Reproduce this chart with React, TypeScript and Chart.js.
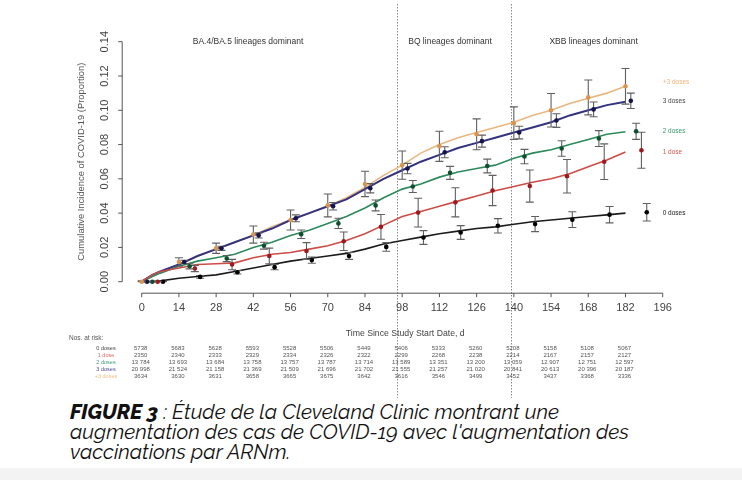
import React, { useEffect, useRef } from "react";
import { Chart, registerables } from "chart.js";
Chart.register(...registerables);

// ---------- data ----------
const lineDays = [0, 4, 7, 14, 21, 28, 35, 42, 49, 56, 63, 70, 77, 84, 91, 98, 105, 112, 119, 126, 133, 140, 147, 154, 161, 168, 175, 182];
const plus3Line = [0, 0.004, 0.006, 0.010, 0.015, 0.019, 0.023, 0.027, 0.032, 0.036, 0.040, 0.044, 0.049, 0.055, 0.062, 0.068, 0.075, 0.080, 0.084, 0.087, 0.090, 0.093, 0.097, 0.100, 0.104, 0.107, 0.110, 0.114];
const dose3Line = [0, 0.004, 0.006, 0.010, 0.015, 0.019, 0.023, 0.027, 0.031, 0.036, 0.040, 0.044, 0.048, 0.054, 0.060, 0.065, 0.070, 0.074, 0.078, 0.081, 0.084, 0.087, 0.090, 0.093, 0.097, 0.100, 0.103, 0.105];
const dose2Line = [0, 0.003, 0.005, 0.009, 0.012, 0.014, 0.016, 0.020, 0.023, 0.027, 0.030, 0.034, 0.038, 0.043, 0.049, 0.054, 0.057, 0.061, 0.064, 0.066, 0.068, 0.072, 0.075, 0.077, 0.080, 0.083, 0.086, 0.0875];
const dose1Line = [0, 0.004, 0.006, 0.008, 0.010, 0.0105, 0.011, 0.014, 0.016, 0.017, 0.019, 0.021, 0.024, 0.028, 0.033, 0.038, 0.041, 0.044, 0.047, 0.050, 0.053, 0.0555, 0.058, 0.060, 0.063, 0.067, 0.071, 0.0757];
const dose0Line = [0, 0, 0.0005, 0.002, 0.003, 0.004, 0.006, 0.008, 0.010, 0.012, 0.0135, 0.015, 0.0165, 0.019, 0.022, 0.024, 0.026, 0.028, 0.0295, 0.031, 0.032, 0.0335, 0.035, 0.036, 0.037, 0.038, 0.039, 0.040];

const markerDays = [0, 14, 28, 42, 56, 70, 84, 98, 112, 126, 140, 154, 168, 182];
const plus3Pts = [0, 0.0115, 0.0195, 0.0275, 0.036, 0.0445, 0.057, 0.068, 0.079, 0.086, 0.0925, 0.100, 0.1075, 0.114];
const plus3Err = [0.0005, 0.0025, 0.003, 0.005, 0.0058, 0.0067, 0.0074, 0.0082, 0.0088, 0.009, 0.0095, 0.0098, 0.0102, 0.0104];
const dose3Pts = [0, 0.0115, 0.0195, 0.027, 0.037, 0.044, 0.0545, 0.066, 0.0755, 0.082, 0.087, 0.094, 0.1005, 0.1055];
const dose3Err = [0.0003, 0.001, 0.0012, 0.0015, 0.002, 0.0022, 0.0027, 0.003, 0.0032, 0.0035, 0.0037, 0.004, 0.0043, 0.0045];
const dose2Pts = [0, 0.009, 0.0135, 0.021, 0.0277, 0.034, 0.0445, 0.0555, 0.0635, 0.0675, 0.073, 0.0777, 0.0835, 0.0877];
const dose2Err = [0.0003, 0.0015, 0.0018, 0.002, 0.0025, 0.003, 0.0032, 0.0035, 0.0038, 0.004, 0.0042, 0.0045, 0.0046, 0.0047];
const dose1Pts = [0, 0.0077, 0.010, 0.015, 0.0179, 0.0236, 0.032, 0.0403, 0.0463, 0.0532, 0.0558, 0.0615, 0.070, 0.0767];
const dose1Err = [0.0003, 0.0018, 0.003, 0.0046, 0.0049, 0.0054, 0.0072, 0.0084, 0.0085, 0.0088, 0.0094, 0.0098, 0.0104, 0.0105];
const dose0Pts = [0, 0.0028, 0.0055, 0.0085, 0.0126, 0.015, 0.0203, 0.0258, 0.0287, 0.0326, 0.0336, 0.0362, 0.0391, 0.0405];
const dose0Err = [0.0002, 0.0008, 0.001, 0.0015, 0.0018, 0.002, 0.0025, 0.004, 0.004, 0.0042, 0.0044, 0.0046, 0.0048, 0.0051];

const seriesNames = ["+3 doses", "3 doses", "2 doses", "1 dose", "0 doses"];
const dodgeDays = [0, 2, 4, 6, 8];

const xTicks = [0, 14, 28, 42, 56, 70, 84, 98, 112, 126, 140, 154, 168, 182, 196];
const yTicks = [0, 0.02, 0.04, 0.06, 0.08, 0.1, 0.12, 0.14];
const yTickLabels = ["0.00", "0.02", "0.04", "0.06", "0.08", "0.10", "0.12", "0.14"];
const periodBounds = [96, 139];
const periodLabels = ["BA.4/BA.5 lineages dominant", "BQ lineages dominant", "XBB lineages dominant"];
const periodLabelDays = [40, 116, 170];

const riskDays = [0, 14, 28, 42, 56, 70, 84, 98, 112, 126, 140, 154, 168, 182];
const riskRowNames = ["0 doses", "1 dose", "2 doses", "3 doses", "+3 doses"];
const risk0 = ["5738", "5683", "5628", "5593", "5528", "5506", "5449", "5406", "5333", "5260", "5208", "5158", "5108", "5067"];
const risk1 = ["2350", "2340", "2333", "2329", "2334", "2326", "2322", "2299", "2268", "2238", "2214", "2167", "2157", "2127"];
const risk2 = ["13 784", "13 693", "13 684", "13 758", "13 757", "13 787", "13 714", "13 589", "13 351", "13 200", "13 059", "12 907", "12 751", "12 597"];
const risk3 = ["20 998", "21 524", "21 158", "21 369", "21 509", "21 696", "21 702", "21 555", "21 257", "21 020", "20 841", "20 613", "20 396", "20 187"];
const risk4 = ["3634", "3630", "3631", "3658", "3665", "3675", "3642", "3616", "3546", "3499", "3452", "3437", "3368", "3336"];

// ---------- styles ----------
const lineColors = ["#e9b680", "#33337f", "#2c8a5c", "#cc4c48", "#1c1c1c"];
const markColors = ["#d99550", "#15154a", "#0f4f2f", "#9e1820", "#000000"];
const labelColors = ["#efb27a", "#444444", "#3a9a6e", "#d05a55", "#222222"];
const riskColors = ["#444444", "#d46a64", "#3f9c7c", "#4a4a9a", "#f0c080"];
const FONT = "'Liberation Sans', Arial, sans-serif";

const lines = [plus3Line, dose3Line, dose2Line, dose1Line, dose0Line];
const pts = [plus3Pts, dose3Pts, dose2Pts, dose1Pts, dose0Pts];
const errs = [plus3Err, dose3Err, dose2Err, dose1Err, dose0Err];
const risks = [risk0, risk1, risk2, risk3, risk4];

export default function App() {
  const ref = useRef<HTMLCanvasElement | null>(null);

  useEffect(() => {
    document.body.style.margin = "0";
    document.body.style.background = "#ffffff";
    if (!ref.current) return;

    const markerSets = pts.map((arr, s) => ({
      label: seriesNames[s] + " pts",
      data: arr.map((v, i) => ({ x: markerDays[i] + dodgeDays[s], y: v })),
      showLine: false,
      pointRadius: 2.3,
      pointBorderWidth: 0,
      pointBackgroundColor: markColors[s],
      pointBorderColor: markColors[s],
      clip: false as any,
      order: 1,
      errIndex: s,
    }));
    const lineSets = lines.map((arr, s) => ({
      label: seriesNames[s],
      data: arr.map((v, i) => ({ x: lineDays[i], y: v })),
      showLine: true,
      borderColor: lineColors[s],
      borderWidth: s === 1 ? 2 : 1.6,
      pointRadius: 0,
      tension: 0,
      clip: false as any,
      order: 10 - s,
    }));

    const rPlugin = {
      id: "rstyle",
      beforeDatasetsDraw(chart: any) {
        const ctx = chart.ctx;
        const xs = chart.scales.x;
        ctx.save();
        ctx.strokeStyle = "#8a8a8a";
        ctx.lineWidth = 1;
        ctx.setLineDash([1.5, 1.5]);
        periodBounds.forEach((d) => {
          const px = Math.round(xs.getPixelForValue(d)) + 0.5;
          ctx.beginPath();
          ctx.moveTo(px, 4);
          ctx.lineTo(px, 398);
          ctx.stroke();
        });
        ctx.restore();
      },
      beforeDatasetDraw(chart: any, args: any) {
        const ds = chart.data.datasets[args.index];
        if (ds.errIndex === undefined) return;
        const s = ds.errIndex;
        const ctx = chart.ctx;
        const xs = chart.scales.x;
        const ys = chart.scales.y;
        ctx.save();
        ctx.strokeStyle = "#606060";
        ctx.lineWidth = 1.1;
        pts[s].forEach((v, i) => {
          const e = errs[s][i];
          const px = xs.getPixelForValue(markerDays[i] + dodgeDays[s]);
          const top = ys.getPixelForValue(v + e);
          const bot = ys.getPixelForValue(Math.max(0, v - e));
          ctx.beginPath();
          ctx.moveTo(px, top);
          ctx.lineTo(px, bot);
          ctx.moveTo(px - 4, top);
          ctx.lineTo(px + 4, top);
          ctx.moveTo(px - 4, bot);
          ctx.lineTo(px + 4, bot);
          ctx.stroke();
        });
        ctx.restore();
      },
      afterDraw(chart: any) {
        const ctx = chart.ctx;
        const xs = chart.scales.x;
        const ys = chart.scales.y;
        const y0 = ys.getPixelForValue(0);
        const yTop = ys.getPixelForValue(0.14);
        const x0 = xs.getPixelForValue(0);
        const xEnd = xs.getPixelForValue(196);
        const axisY = y0 + 11.5;
        const axisX = x0 - 19.5;
        ctx.save();
        // y axis
        ctx.strokeStyle = "#555";
        ctx.lineWidth = 1;
        ctx.beginPath();
        ctx.moveTo(axisX, y0);
        ctx.lineTo(axisX, yTop);
        yTicks.forEach((t) => {
          const py = ys.getPixelForValue(t);
          ctx.moveTo(axisX, py);
          ctx.lineTo(axisX - 4, py);
        });
        ctx.stroke();
        ctx.fillStyle = "#444";
        ctx.font = "11px " + FONT;
        ctx.textAlign = "center";
        ctx.textBaseline = "middle";
        yTicks.forEach((t, i) => {
          const py = ys.getPixelForValue(t);
          ctx.save();
          ctx.translate(axisX - 17, py);
          ctx.rotate(-Math.PI / 2);
          ctx.fillText(yTickLabels[i], 0, 0);
          ctx.restore();
        });
        ctx.save();
        ctx.font = "9.4px " + FONT;
        ctx.fillStyle = "#555";
        ctx.translate(axisX - 41, (y0 + yTop) / 2);
        ctx.rotate(-Math.PI / 2);
        ctx.fillText("Cumulative Incidence of COVID-19 (Proportion)", 0, 0);
        ctx.restore();
        // x axis
        ctx.beginPath();
        ctx.moveTo(x0, axisY);
        ctx.lineTo(xEnd, axisY);
        xTicks.forEach((t) => {
          const px = xs.getPixelForValue(t);
          ctx.moveTo(px, axisY);
          ctx.lineTo(px, axisY + 4);
        });
        ctx.stroke();
        ctx.font = "11px " + FONT;
        ctx.fillStyle = "#444";
        xTicks.forEach((t) => {
          ctx.fillText(String(t), xs.getPixelForValue(t), axisY + 15);
        });
        ctx.font = "8.7px " + FONT;
        ctx.fillStyle = "#444";
        ctx.fillText("Time Since Study Start Date, d", (x0 + xEnd) / 2 + 3, axisY + 40);
        // period labels
        ctx.font = "8.5px " + FONT;
        ctx.fillStyle = "#333";
        periodLabels.forEach((l, i) => {
          ctx.fillText(l, xs.getPixelForValue(periodLabelDays[i]), yTop);
        });
        // series labels
        ctx.textAlign = "left";
        ctx.font = "6.5px " + FONT;
        lines.forEach((arr, s) => {
          ctx.fillStyle = labelColors[s];
          const py = ys.getPixelForValue(arr[arr.length - 1]) - (s === 0 ? 4 : 0);
          ctx.fillText(seriesNames[s], xEnd, py);
        });
        // risk table
        ctx.font = "6.5px " + FONT;
        ctx.fillStyle = "#555";
        ctx.fillText("Nos. at risk:", 69, 338);
        const rowY = [348.3, 355.3, 362.3, 369.3, 376.5];
        risks.forEach((row, r) => {
          ctx.textAlign = "center";
          ctx.font = "5.5px " + FONT;
          ctx.fillStyle = riskColors[r];
          ctx.fillText(riskRowNames[r], 106, rowY[r]);
          ctx.font = "6px " + FONT;
          ctx.fillStyle = "#555";
          row.forEach((v, i) => {
            ctx.fillText(v, xs.getPixelForValue(riskDays[i]) - 1, rowY[r]);
          });
        });
        ctx.restore();
      },
    };

    const chart = new Chart(ref.current, {
      type: "scatter",
      data: { datasets: [...markerSets, ...lineSets] as any },
      options: {
        animation: false,
        responsive: false,
        events: [],
        layout: { padding: { left: 141.7, right: 79.3, top: 41.7, bottom: 118.3 } },
        scales: {
          x: { type: "linear", min: 0, max: 196, display: false },
          y: { type: "linear", min: 0, max: 0.14, display: false },
        },
        plugins: { legend: { display: false }, tooltip: { enabled: false } },
      },
      plugins: [rPlugin as any],
    });
    return () => chart.destroy();
  }, []);

  return (
    <div style={{ position: "relative", width: 742, height: 480, background: "#fff", overflow: "hidden" }}>
      <canvas ref={ref} width={742} height={400} style={{ position: "absolute", left: 0, top: 0 }} />
      <div
        style={{
          position: "absolute",
          left: 70,
          top: 402,
          fontFamily: "Raleway, Lato, 'Open Sans', sans-serif",
          fontStyle: "italic",
          fontSize: 20.6,
          lineHeight: "20px",
          color: "#111",
          whiteSpace: "nowrap",
        }}
      >
        <span style={{ fontWeight: 800 }}>FIGURE 3</span> : Étude de la Cleveland Clinic montrant une
        <br />
        augmentation des cas de COVID-19 avec l'augmentation des
        <br />
        vaccinations par ARNm.
      </div>
      <div style={{ position: "absolute", left: 0, top: 468, width: 742, height: 12, background: "#f3f3f3" }} />
    </div>
  );
}
